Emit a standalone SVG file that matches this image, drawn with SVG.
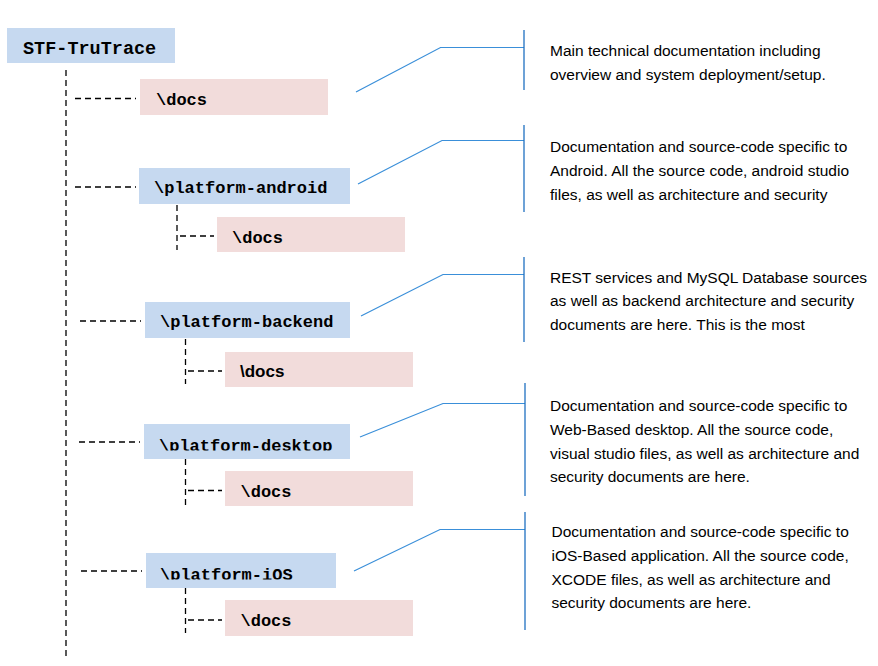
<svg xmlns="http://www.w3.org/2000/svg" width="878" height="666" viewBox="0 0 878 666">
<style>
.bg{fill:#ffffff}
.blue{fill:#c6d9f0}
.pink{fill:#f2dcdb}
.mono{font-family:"Liberation Mono","Courier New",monospace;font-weight:bold;font-size:17px;fill:#000}
.sansb{font-family:"Liberation Sans",Arial,sans-serif;font-weight:bold;font-size:17px;fill:#000}
.desc{font-family:"Liberation Sans",Arial,sans-serif;font-size:15.5px;fill:#000}
.tree{stroke:#000;stroke-width:1.3;fill:none;stroke-dasharray:6,4}
.callout{stroke:#3a8fd9;stroke-width:1.2;fill:none}
.bar{stroke:#1f70c1;stroke-width:1.3;fill:none}
</style>
<defs>
<clipPath id="clipDesktop"><rect x="144" y="424" width="206" height="26.5"/></clipPath>
<clipPath id="clipIos"><rect x="146" y="553" width="190" height="26.5"/></clipPath>
</defs>
<rect class="bg" x="0" y="0" width="878" height="666"/>

<g id="connectors">
<line class="tree" x1="66" y1="70" x2="66" y2="658"/>
<line class="tree" x1="75" y1="98.5" x2="136" y2="98.5"/>
<line class="tree" x1="75" y1="187" x2="136" y2="187"/>
<line class="tree" x1="80" y1="321" x2="141" y2="321"/>
<line class="tree" x1="79" y1="442" x2="140" y2="442"/>
<line class="tree" x1="81" y1="571" x2="142" y2="571"/>
<line class="tree" x1="177" y1="205" x2="177" y2="250"/>
<line class="tree" x1="180" y1="236" x2="214" y2="236"/>
<line class="tree" x1="185.5" y1="339" x2="185.5" y2="384"/>
<line class="tree" x1="188" y1="371" x2="222" y2="371"/>
<line class="tree" x1="185.5" y1="459" x2="185.5" y2="505"/>
<line class="tree" x1="188" y1="490.5" x2="222" y2="490.5"/>
<line class="tree" x1="185.5" y1="588" x2="185.5" y2="633"/>
<line class="tree" x1="188" y1="620" x2="222" y2="620"/>
<polyline class="callout" points="356,92 440.5,47.5 524,47.5"/>
<polyline class="callout" points="358,184 442,140.5 524,140.5"/>
<polyline class="callout" points="361,316 443,274.5 524,274.5"/>
<polyline class="callout" points="360,437 443,403.5 525,403.5"/>
<polyline class="callout" points="354,571 440,529.5 525,529.5"/>
<line class="bar" x1="524" y1="30" x2="524" y2="90"/>
<line class="bar" x1="524" y1="125" x2="524" y2="212"/>
<line class="bar" x1="524" y1="257" x2="524" y2="342"/>
<line class="bar" x1="525" y1="383" x2="525" y2="496"/>
<line class="bar" x1="525" y1="512" x2="525" y2="630"/>
</g>

<g id="node-root">
<rect class="blue" x="7" y="28" width="168" height="35"/>
<text class="mono" x="23" y="54" style="font-size:18.5px">STF-TruTrace</text>
</g>

<g id="node-docs">
<rect class="pink" x="140" y="79" width="188" height="36"/>
<text class="mono" x="156" y="105">\docs</text>
</g>

<g id="node-android">
<rect class="blue" x="139" y="168" width="211" height="36"/>
<text class="mono" x="154" y="193">\platform-android</text>
</g>
<g id="node-android-docs">
<rect class="pink" x="217" y="217" width="188" height="35"/>
<text class="mono" x="232" y="243">\docs</text>
</g>

<g id="node-backend">
<rect class="blue" x="145" y="302" width="205" height="36"/>
<text class="mono" x="160" y="327">\platform-backend</text>
</g>
<g id="node-backend-docs">
<rect class="pink" x="225" y="352" width="188" height="35"/>
<text class="sansb" x="240" y="377">\docs</text>
</g>

<g id="node-desktop">
<rect class="blue" x="144" y="424" width="206" height="35"/>
<text class="mono" x="159" y="451" clip-path="url(#clipDesktop)">\platform-desktop</text>
</g>
<g id="node-desktop-docs">
<rect class="pink" x="225" y="471" width="188" height="35"/>
<text class="mono" x="240.5" y="497">\docs</text>
</g>

<g id="node-ios">
<rect class="blue" x="146" y="553" width="190" height="35"/>
<text class="mono" x="160" y="580" clip-path="url(#clipIos)">\platform-iOS</text>
</g>
<g id="node-ios-docs">
<rect class="pink" x="225" y="600" width="188" height="36"/>
<text class="mono" x="240.5" y="626">\docs</text>
</g>

<g id="desc-docs">
<text class="desc" x="550" y="56">Main technical documentation including</text>
<text class="desc" x="550" y="79.5">overview and system deployment/setup.</text>
</g>
<g id="desc-android">
<text class="desc" x="550" y="152">Documentation and source-code specific to</text>
<text class="desc" x="550" y="176">Android. All the source code, android studio</text>
<text class="desc" x="550" y="200">files, as well as architecture and security</text>
</g>
<g id="desc-backend">
<text class="desc" x="550" y="282.5">REST services and MySQL Database sources</text>
<text class="desc" x="550" y="306">as well as backend architecture and security</text>
<text class="desc" x="550" y="330">documents are here. This is the most</text>
</g>
<g id="desc-desktop">
<text class="desc" x="550" y="411">Documentation and source-code specific to</text>
<text class="desc" x="550" y="435">Web-Based desktop. All the source code,</text>
<text class="desc" x="550" y="458.5">visual studio files, as well as architecture and</text>
<text class="desc" x="550" y="482">security documents are here.</text>
</g>
<g id="desc-ios">
<text class="desc" x="551.5" y="537">Documentation and source-code specific to</text>
<text class="desc" x="551.5" y="560.5">iOS-Based application. All the source code,</text>
<text class="desc" x="551.5" y="584.5">XCODE files, as well as architecture and</text>
<text class="desc" x="551.5" y="608">security documents are here.</text>
</g>
</svg>
